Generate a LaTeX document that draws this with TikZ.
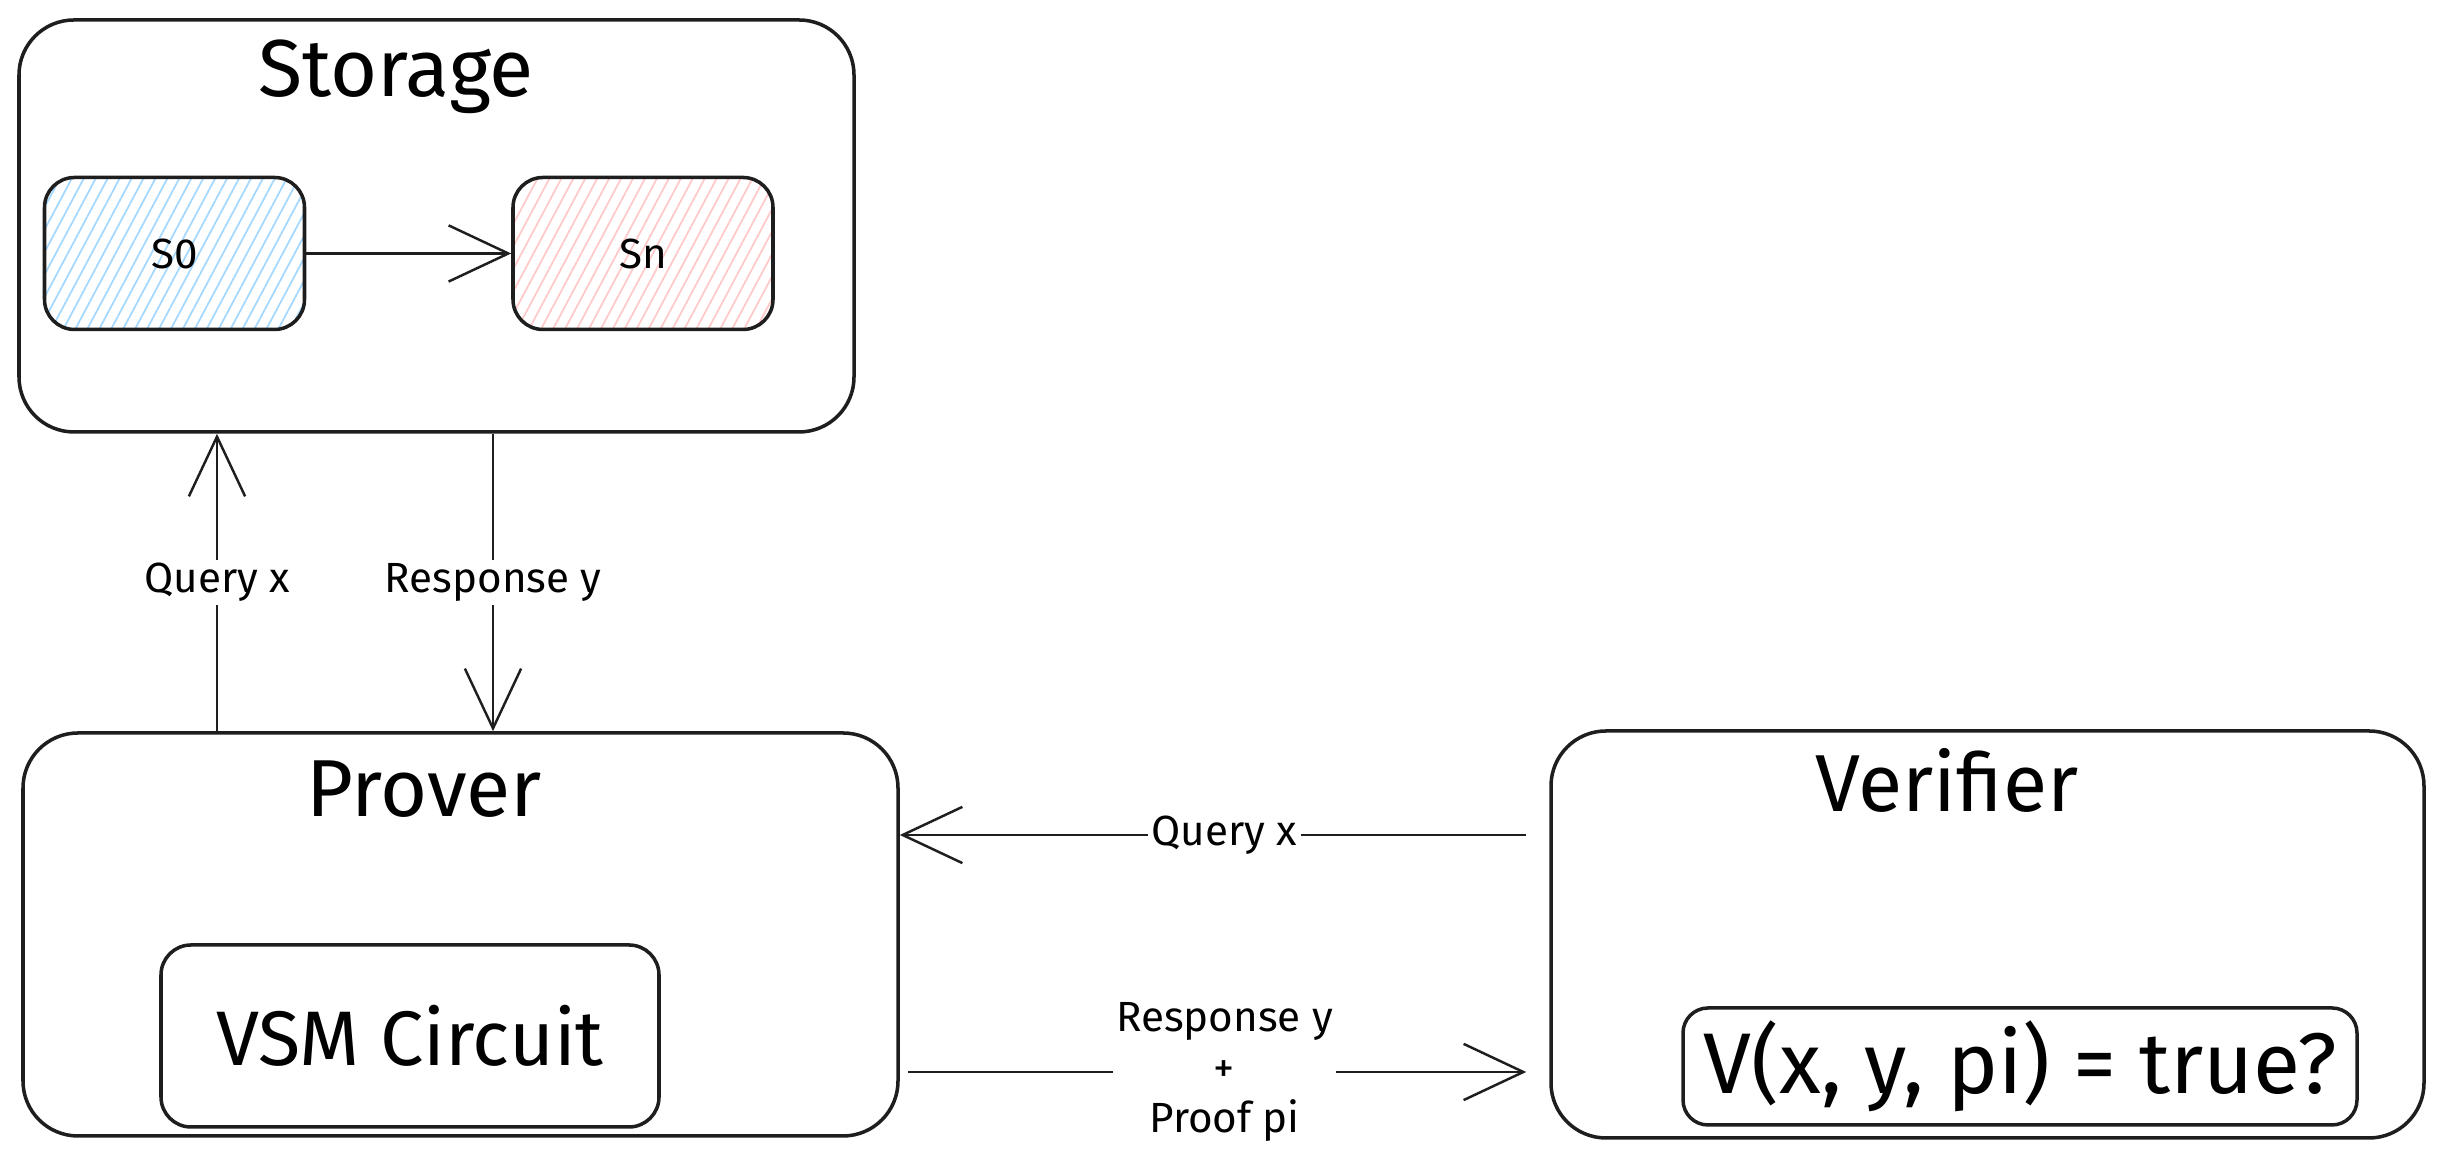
\documentclass[tikz,border=0pt]{standalone}
\usepackage{fontspec}
\setmainfont{Fira Sans}
\usetikzlibrary{arrows.meta,patterns.meta}

\definecolor{ink}{HTML}{1E1E1E}
\definecolor{hatchblue}{HTML}{A5D8FF}
\definecolor{hatchred}{HTML}{FFC9C9}

\begin{document}
\begin{tikzpicture}[
    bigbox/.style={draw=ink, line width=1pt, rounded corners=0.55cm},
    smallbox/.style={draw=ink, line width=1pt, rounded corners=0.3cm},
    statebox/.style={smallbox, minimum width=2.6cm, minimum height=1.52cm, font=\fontsize{12}{14}\selectfont},
    title/.style={font=\fontsize{23}{27}\selectfont, anchor=base},
    lbl/.style={fill=white, inner sep=1pt, font=\fontsize{12}{14.5}\selectfont},
    arr/.style={-{Straight Barb[length=17pt,width=16pt]}, draw=ink, line width=0.7pt}
]
    \useasboundingbox (0,0) rectangle (24.44,11.67);

    % storage
    \node[bigbox, minimum width=8.35cm, minimum height=4.12cm] (storage) at (4.365,9.41) {};
    \node[title] (storagetitle) at (3.96,10.70) {Storage};
    \node[statebox, pattern={Lines[angle=62,distance=3pt,line width=0.5pt]}, pattern color=hatchblue] (s0) at (1.745,9.135) {S0};
    \node[statebox, pattern={Lines[angle=62,distance=3pt,line width=0.5pt]}, pattern color=hatchred] (sn) at (6.43,9.135) {Sn};
    \draw[arr] (s0) -- (sn);

    % prover
    \node[bigbox, minimum width=8.75cm, minimum height=4.03cm] (prover) at (4.605,2.325) {};
    \node[title] (provertitle) at (4.24,3.50) {Prover};
    \node[smallbox, minimum width=4.98cm, minimum height=1.82cm, font=\fontsize{22}{26}\selectfont] (vsm) at (4.10,1.31) {VSM Circuit};

    % verifier
    \node[bigbox, minimum width=8.73cm, minimum height=4.07cm] (verifier) at (19.875,2.325) {};
    \node[title] (verifiertitle) at (19.47,3.55) {Verifier};
    \node[smallbox, rounded corners=0.25cm, minimum width=6.74cm, minimum height=1.17cm, font=\fontsize{24.5}{28}\selectfont] (check) at (20.20,1.005) {V(x, y, pi) = true?};

    % prover <-> storage
    \draw[arr] (prover.north -| 2.17,0) -- node[lbl] {Query x} (storage.south -| 2.17,0);
    \draw[arr] (storage.south -| 4.93,0) -- node[lbl] {Response y} (prover.north -| 4.93,0);

    % verifier <-> prover
    \draw[arr, shorten <=0.23cm] (verifier.west |- 0,3.32) -- node[lbl] {Query x} (prover.east |- 0,3.32);
    \draw[arr, shorten <=0.08cm, shorten >=0.23cm] (prover.east |- 0,0.95) -- node[lbl, align=center] {Response y\\+\\Proof pi} (verifier.west |- 0,0.95);
\end{tikzpicture}
\end{document}
